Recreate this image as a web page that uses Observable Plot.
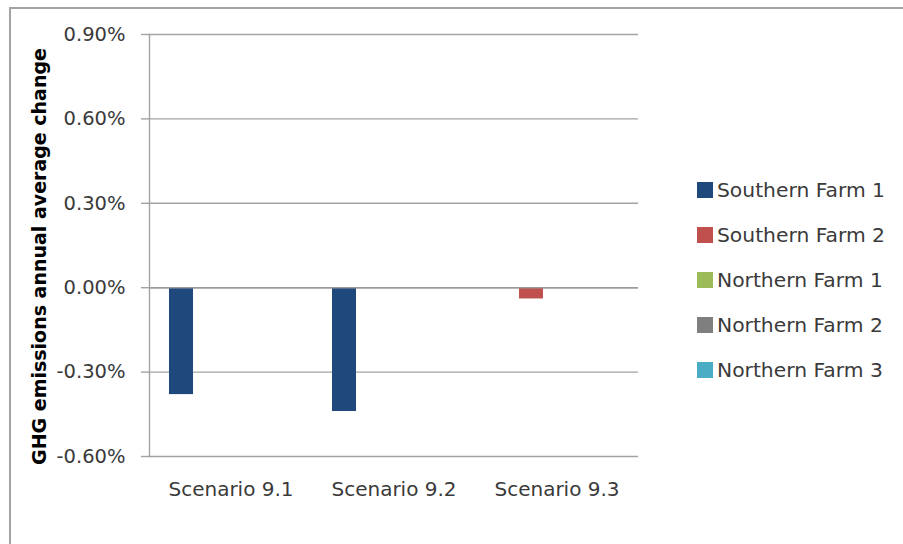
<!DOCTYPE html>
<html><head><meta charset="utf-8">
<script src="https://cdn.jsdelivr.net/npm/d3@7"></script>
<script src="https://cdn.jsdelivr.net/npm/@observablehq/plot@0.6"></script>
<style>
body{margin:0;background:#fff;}
#wrap{position:relative;width:903px;height:544px;overflow:hidden;font-family:"DejaVu Sans", sans-serif;}
#border{position:absolute;left:9px;top:7px;width:900px;height:600px;border-top:2px solid #a3a3a3;border-left:2px solid #a3a3a3;}
#chart{position:absolute;left:0;top:0;}
#legend{position:absolute;left:697px;top:167px;}
.item{display:flex;align-items:center;height:45px;font-size:20.3px;color:#3a3a3a;white-space:nowrap;}
.sw{width:16px;height:16px;margin-right:4px;}
</style>
</head><body>
<div id="wrap"><div id="border"></div><div id="chart"></div><div id="legend"></div></div>
<script>
const scenarios = ["Scenario 9.1", "Scenario 9.2", "Scenario 9.3"];
const farms = ["Southern Farm 1", "Southern Farm 2", "Northern Farm 1", "Northern Farm 2", "Northern Farm 3"];
const colors = ["#1f497d", "#c0504d", "#9bbb59", "#7f7f7f", "#4bacc6"];
// values in percent, one array per series (order = scenarios)
const southernFarm1 = [-0.38, -0.44, 0];
const southernFarm2 = [0, 0, -0.04];
const northernFarm1 = [0, 0, 0];
const northernFarm2 = [0, 0, 0];
const northernFarm3 = [0, 0, 0];
const yTicksPct = [-0.6, -0.3, 0, 0.3, 0.6, 0.9];
const yTitle = "GHG emissions annual average change";

const seriesValues = [southernFarm1, southernFarm2, northernFarm1, northernFarm2, northernFarm3];
const rows = [];
farms.forEach((f, j) => scenarios.forEach((s, i) => rows.push({scenario: s, farm: f, value: seriesValues[j][i] / 100})));
const yTicks = yTicksPct.map(v => v / 100);
const fmt = d3.formatLocale({decimal: ".", thousands: ",", grouping: [3], currency: ["", ""], minus: "-", percent: "%"}).format(".2%");

const chart = Plot.plot({
  width: 903, height: 544,
  marginLeft: 148, marginRight: 264, marginTop: 34, marginBottom: 88,
  style: {fontFamily: "'DejaVu Sans', sans-serif", fontSize: "19.5px", color: "#3a3a3a", background: "transparent"},
  fx: {domain: scenarios, padding: 0, label: null},
  x: {domain: farms, paddingInner: 0, paddingOuter: 0.84, align: 0.46, axis: null},
  y: {domain: [yTicks[0], yTicks[yTicks.length - 1]], axis: null},
  color: {domain: farms, range: colors},
  marks: [
    Plot.gridY(yTicks, {stroke: "#a3a3a3", strokeOpacity: 1, strokeWidth: 1.4}),
    Plot.barY(rows, {fx: "scenario", x: "farm", y: "value", fill: "farm"}),
    Plot.ruleY([0], {stroke: "#9a9a9a", strokeWidth: 1.6}),
    Plot.frame({anchor: "left", stroke: "#a3a3a3", strokeWidth: 1.4, fx: () => scenarios[0]}),
    Plot.axisY(yTicks, {tickSize: 8, tickPadding: 16, tickFormat: fmt, stroke: "#a3a3a3", strokeWidth: 1.4, fill: "#3a3a3a", label: null, fontSize: 19.5}),
    Plot.text([yTitle], {fx: () => scenarios[0], frameAnchor: "left", textAnchor: "middle", rotate: -90, dx: -110, dy: 11, fontWeight: "bold", fontSize: 19, fill: "#000"}),
    Plot.axisFx({anchor: "bottom", tickSize: 0, tickPadding: 25, label: null, fill: "#3a3a3a", fontSize: 20})
  ]
});
document.getElementById("chart").appendChild(chart);

const legend = document.getElementById("legend");
farms.forEach((f, j) => {
  const it = document.createElement("div");
  it.className = "item";
  const sw = document.createElement("span");
  sw.className = "sw";
  sw.style.background = colors[j];
  it.appendChild(sw);
  it.appendChild(document.createTextNode(f));
  legend.appendChild(it);
});
</script>
</body></html>
